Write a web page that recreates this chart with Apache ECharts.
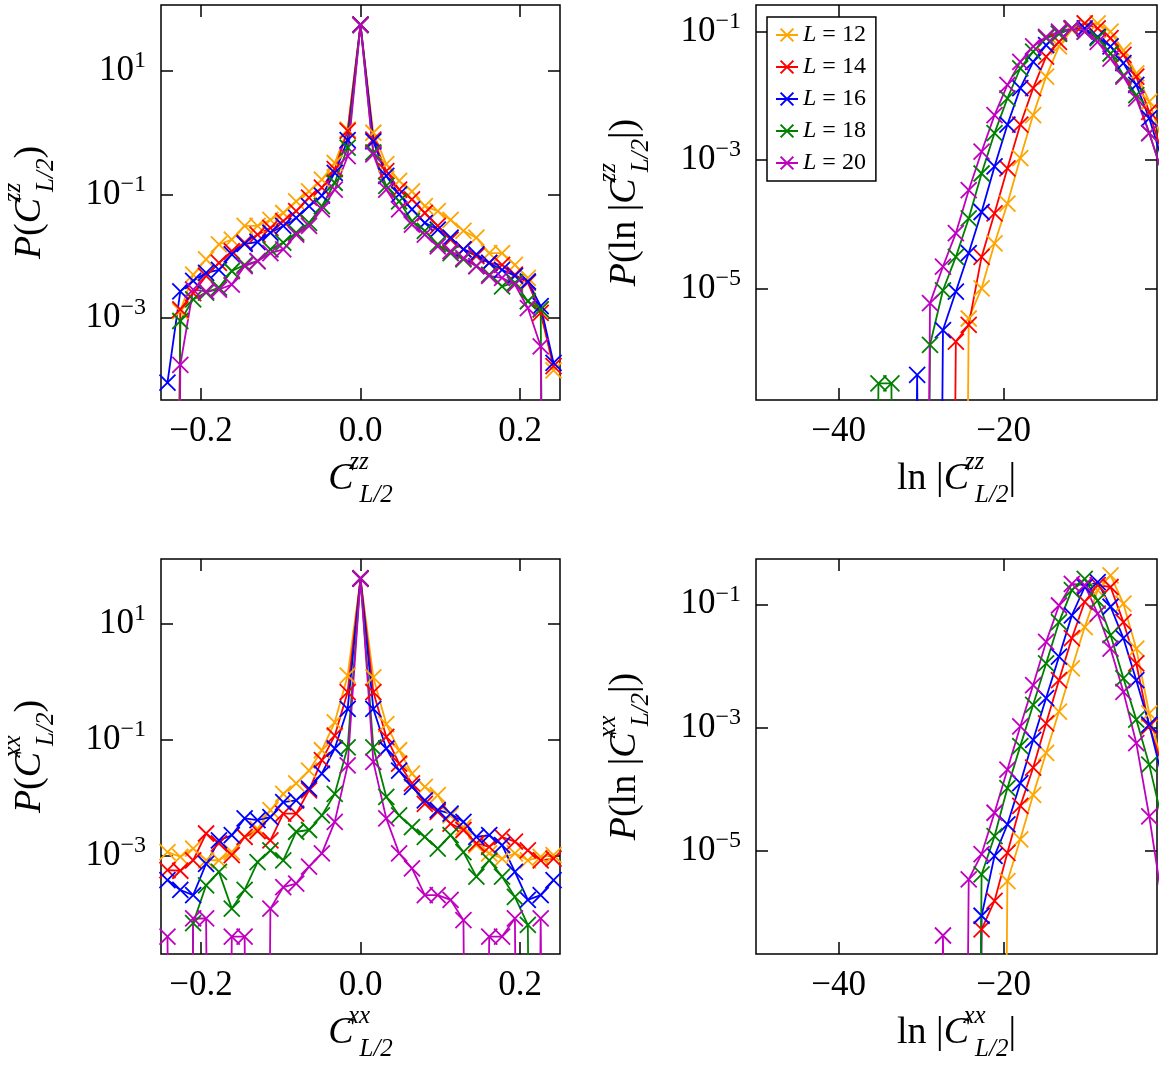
<!DOCTYPE html>
<html lang="en" style="height: 100%">
<head>
  <meta charset="utf-8">
  <title>correlation_distributions</title>
  <style>
    html, body { height: 100%; margin: 0; background: #fff; }
  </style>
</head>
<body>
  <div id="container" style="width: 1165px; height: 1077px"></div>
  <script type="text/javascript" src="https://cdn.jsdelivr.net/npm/echarts@6/dist/echarts.min.js"></script>
  <script type="text/javascript">
// ---- data (log10 of P, null = empty bin) ----
var sizes = ['12', '14', '16', '18', '20'];
var colors = ['#ffa500', '#ff0000', '#0000ff', '#008000', '#bf00bf'];

// bin centres, C_{L/2} histograms (31 bins on [-0.25, 0.25])
var cBins = [-0.2419, -0.2258, -0.2097, -0.1935, -0.1774, -0.1613, -0.1452, -0.1290,
  -0.1129, -0.0968, -0.0806, -0.0645, -0.0484, -0.0323, -0.0161, 0,
  0.0161, 0.0323, 0.0484, 0.0645, 0.0806, 0.0968, 0.1129, 0.1290,
  0.1452, 0.1613, 0.1774, 0.1935, 0.2097, 0.2258, 0.2419];
// bin centres, ln|C_{L/2}| histograms
var lnBins = [-36.72, -35.16, -33.59, -32.03, -30.47, -28.91, -27.34, -25.78,
  -24.22, -22.66, -21.09, -19.53, -17.97, -16.41, -14.84, -13.28,
  -11.72, -10.16, -8.59, -7.03, -5.47, -3.91, -2.34, -0.78];

// P(C^zz)
var zz12 = [null, -2.89, -2.3, -2.05, -1.81, -1.73, -1.51, -1.51, -1.41, -1.3, -1.11, -0.95, -0.76, -0.49, 0.05, 1.75,
  0.0, -0.51, -0.78, -0.95, -1.19, -1.27, -1.41, -1.59, -1.7, -1.95, -1.95, -2.14, -2.35, -2.86, -3.85];
var zz14 = [null, -2.86, -2.6, -2.32, -2.11, -1.92, -1.78, -1.65, -1.54, -1.43, -1.27, -1.05, -0.89, -0.59, 0.03, 1.75,
  -0.11, -0.62, -0.92, -1.08, -1.3, -1.51, -1.73, -1.89, -2.0, -2.11, -2.14, -2.3, -2.43, -2.92, -3.78];
var zz16 = [-4.05, -2.57, -2.4, -2.27, -2.22, -1.97, -1.8, -1.77, -1.62, -1.51, -1.38, -1.19, -1.02, -0.65, -0.12, 1.75,
  -0.14, -0.7, -1.0, -1.24, -1.46, -1.57, -1.7, -1.89, -1.97, -2.11, -2.22, -2.32, -2.41, -2.81, -3.73];
var zz18 = [null, -3.05, -2.7, -2.59, -2.51, -2.24, -2.14, -2.08, -1.89, -1.78, -1.62, -1.46, -1.19, -0.81, -0.24, 1.75,
  -0.32, -0.86, -1.11, -1.43, -1.59, -1.81, -1.95, -2.05, -2.16, -2.3, -2.49, -2.43, -2.73, -2.86, null];
var zz20 = [null, -3.76, -2.54, -2.57, -2.54, -2.46, -2.16, -2.08, -1.95, -1.89, -1.65, -1.51, -1.24, -0.92, -0.38, 1.75,
  -0.35, -0.92, -1.24, -1.49, -1.65, -1.84, -1.92, -2.03, -2.16, -2.32, -2.35, -2.46, -2.84, -3.46, null];

// P(C^xx)
var xx12 = [-2.93, -3.01, -2.87, -3.07, -3.07, -2.93, -2.67, -2.53, -2.21, -1.93, -1.75, -1.53, -1.18, -0.7, 0.1, 1.77,
  0.07, -0.73, -1.18, -1.58, -1.81, -1.95, -2.3, -2.5, -2.81, -2.95, -3.04, -2.95, -3.07, -3.01, -2.98];
var xx14 = [-3.24, -3.25, -3.07, -2.61, -2.78, -2.98, -2.67, -2.57, -2.73, -2.27, -2.27, -1.87, -1.35, -0.93, -0.18, 1.77,
  -0.18, -0.95, -1.41, -1.75, -2.1, -2.24, -2.44, -2.55, -2.78, -2.84, -2.67, -2.75, -2.9, -3.07, -3.04];
var xx16 = [-3.41, -3.58, -3.67, -3.13, -2.73, -2.64, -2.35, -2.38, -2.33, -2.07, -2.04, -1.84, -1.58, -1.15, -0.47, 1.77,
  -0.47, -1.15, -1.53, -1.81, -2.04, -2.21, -2.27, -2.41, -2.67, -2.64, -2.81, -3.27, -3.75, -3.67, -3.41];
var xx18 = [null, null, -4.15, -3.5, -3.27, -3.9, -3.58, -3.1, -2.9, -3.07, -2.58, -2.55, -2.3, -1.93, -1.13, 1.77,
  -1.13, -1.98, -2.3, -2.5, -2.67, -2.87, -2.64, -2.93, -3.35, -3.07, -3.35, -3.7, -4.18, null, null];
var xx20 = [-4.38, null, -4.07, -4.07, null, -4.38, -4.38, null, -3.9, -3.53, -3.47, -3.18, -2.95, -2.41, -1.44, 1.77,
  -1.38, -2.35, -2.95, -3.21, -3.67, -3.67, -3.75, -4.1, null, -4.38, -4.38, -4.07, null, -4.07, null];

// P(ln|C^zz|)
var lnzz12 = [null, null, null, null, null, null, null, null, -5.47, -5.0, -4.3, -3.68, -2.97, -2.3, -1.7, -1.23,
  -0.97, -0.87, -0.87, -1.0, -1.29, -1.65, -2.09, -2.7];
var lnzz14 = [null, null, null, null, null, null, null, -5.83, -5.57, -4.51, -3.83, -3.13, -2.45, -1.88, -1.39, -1.16,
  -0.95, -0.87, -0.95, -1.1, -1.36, -1.7, -2.25, -2.9];
var lnzz16 = [null, null, null, null, -6.35, null, -5.65, -5.05, -4.45, -3.81, -3.1, -2.45, -1.88, -1.47, -1.21, -1.03,
  -0.95, -0.95, -1.08, -1.23, -1.49, -1.83, -2.35, -3.0];
var lnzz18 = [null, -6.48, -6.48, null, null, -5.88, -5.03, -4.51, -3.91, -3.21, -2.58, -2.04, -1.57, -1.31, -1.1, -1.03,
  -0.95, -1.0, -1.1, -1.34, -1.68, -1.99, -2.58, -3.2];
var lnzz20 = [null, null, null, null, null, -5.23, -4.66, -4.14, -3.47, -2.87, -2.3, -1.83, -1.47, -1.23, -1.08, -1.0,
  -0.95, -1.0, -1.16, -1.42, -1.7, -2.04, -2.58, -3.2];

// P(ln|C^xx|)
var lnxx12 = [null, null, null, null, null, null, null, null, null, null, null, -5.49, -4.81, -4.09, -3.41, -2.74,
  -2.04, -1.37, -0.77, -0.53, -0.99, -1.72, -2.77, -3.6];
var lnxx14 = [null, null, null, null, null, null, null, null, null, -6.27, -5.81, -5.03, -4.27, -3.65, -2.93, -2.23,
  -1.55, -0.96, -0.69, -0.72, -1.29, -1.96, -2.98, -3.6];
var lnxx16 = [null, null, null, null, null, null, null, null, null, -6.05, -5.08, -4.57, -3.9, -3.2, -2.52, -1.85,
  -1.18, -0.72, -0.64, -1.04, -1.55, -2.23, -2.95, -3.8];
var lnxx18 = [null, null, null, null, null, null, null, null, null, -5.38, -4.76, -3.98, -3.3, -2.63, -1.96, -1.29,
  -0.77, -0.59, -0.94, -1.5, -2.2, -2.87, -3.6, -4.5];
var lnxx20 = [null, null, null, null, null, null, -6.37, null, -5.46, -5.05, -4.38, -3.68, -2.98, -2.31, -1.61, -1.02,
  -0.67, -0.69, -1.15, -1.72, -2.42, -3.25, -4.44, -5.8];

// ---- chart ----
var SERIF = 'Liberation Serif';
var xMark = 'path://M0,0L10,10M10,0L0,10';

var nameRich = {
  i: { fontFamily: SERIF, fontStyle: 'italic', fontSize: 38, lineHeight: 58, verticalAlign: 'middle', color: '#000' },
  n: { fontFamily: SERIF, fontSize: 38, lineHeight: 58, verticalAlign: 'middle', color: '#000' },
  sup: { fontFamily: SERIF, fontStyle: 'italic', fontSize: 25, verticalAlign: 'top', align: 'left', width: 1,
    padding: [0, 0, 0, 5], color: '#000' },
  sub: { fontFamily: SERIF, fontStyle: 'italic', fontSize: 25, verticalAlign: 'bottom', align: 'left', color: '#000' }
};
var powRich = {
  b: { fontFamily: SERIF, fontSize: 35, lineHeight: 44, verticalAlign: 'middle', color: '#000' },
  s: { fontFamily: SERIF, fontSize: 24, verticalAlign: 'top', color: '#000' }
};

var panels = [
  { grid: { left: 160, top: 5, width: 400, height: 395 }, xMin: -0.25, xMax: 0.25, xTicks: [-0.2, 0, 0.2],
    yMin: -4.33, yMax: 2.07, yTicks: [10, 0.1, 0.001], bins: cBins, logs: [zz12, zz14, zz16, zz18, zz20],
    xName: '{i|C}{sup|zz}{sub|L/2}', yName: '{i|P}{n|(}{i|C}{sup|zz}{sub|L/2}{n|)}' },
  { grid: { left: 756, top: 5, width: 401, height: 395 }, xMin: -50, xMax: -1.4, xTicks: [-40, -20],
    yMin: -6.74, yMax: -0.584, yTicks: [0.1, 0.001, 0.00001], bins: lnBins, logs: [lnzz12, lnzz14, lnzz16, lnzz18, lnzz20],
    xName: '{n|ln |}{i|C}{sup|zz}{sub|L/2}{n||}', yName: '{i|P}{n|(ln |}{i|C}{sup|zz}{sub|L/2}{n||)}' },
  { grid: { left: 160, top: 559, width: 400, height: 395 }, xMin: -0.25, xMax: 0.25, xTicks: [-0.2, 0, 0.2],
    yMin: -4.68, yMax: 2.105, yTicks: [10, 0.1, 0.001], bins: cBins, logs: [xx12, xx14, xx16, xx18, xx20],
    xName: '{i|C}{sup|xx}{sub|L/2}', yName: '{i|P}{n|(}{i|C}{sup|xx}{sub|L/2}{n|)}' },
  { grid: { left: 756, top: 559, width: 401, height: 395 }, xMin: -50, xMax: -1.4, xTicks: [-40, -20],
    yMin: -6.67, yMax: -0.266, yTicks: [0.1, 0.001, 0.00001], bins: lnBins, logs: [lnxx12, lnxx14, lnxx16, lnxx18, lnxx20],
    xName: '{n|ln |}{i|C}{sup|xx}{sub|L/2}{n||}', yName: '{i|P}{n|(ln |}{i|C}{sup|xx}{sub|L/2}{n||)}' }
];

function decLabel(v) {
  if (Math.abs(v) < 1e-9) return '0.0';
  var s = Math.abs(v) < 1 ? Math.abs(v).toFixed(1) : String(Math.abs(v));
  return (v < 0 ? '\u2212' : '') + s;
}
function powLabel(v) {
  var e = Math.round(Math.log10(v));
  return '{b|10}{s|' + (e < 0 ? '\u2212' + (-e) : e) + '}';
}
function toPoints(bins, logs) {
  return bins.map(function (x, i) {
    // empty bins sit far below the frame so the line drops straight down
    return [x, logs[i] === null ? 1e-30 : Math.pow(10, logs[i])];
  });
}

var tick = { show: true, inside: true, length: 12, lineStyle: { color: '#000', width: 1.5 } };
var noLine = { show: false, onZero: false };
var grids = [], xAxes = [], yAxes = [], series = [];

panels.forEach(function (p, g) {
  grids.push(Object.assign({ show: true, borderColor: '#000', borderWidth: 1.5, backgroundColor: 'transparent' }, p.grid));
  xAxes.push({
    type: 'value', gridIndex: g, position: 'bottom', min: p.xMin, max: p.xMax,
    axisLine: noLine, splitLine: { show: false },
    axisTick: Object.assign({ customValues: p.xTicks }, tick),
    axisLabel: { customValues: p.xTicks, formatter: decLabel, margin: 14, fontFamily: SERIF, fontSize: 35, color: '#000' },
    name: p.xName, nameLocation: 'middle', nameGap: 50, nameTextStyle: { rich: nameRich }
  });
  xAxes.push({
    type: 'value', gridIndex: g, position: 'top', min: p.xMin, max: p.xMax,
    axisLine: noLine, splitLine: { show: false },
    axisTick: Object.assign({ customValues: p.xTicks }, tick),
    axisLabel: { show: false }
  });
  yAxes.push({
    type: 'log', gridIndex: g, position: 'left', min: Math.pow(10, p.yMin), max: Math.pow(10, p.yMax),
    axisLine: noLine, splitLine: { show: false }, minorTick: { show: false },
    axisTick: Object.assign({ customValues: p.yTicks }, tick),
    axisLabel: { customValues: p.yTicks, formatter: powLabel, margin: 15, rich: powRich },
    name: p.yName, nameLocation: 'middle', nameRotate: 90, nameGap: 102, nameTextStyle: { rich: nameRich }
  });
  yAxes.push({
    type: 'log', gridIndex: g, position: 'right', min: Math.pow(10, p.yMin), max: Math.pow(10, p.yMax),
    axisLine: noLine, splitLine: { show: false }, minorTick: { show: false },
    axisTick: Object.assign({ customValues: p.yTicks }, tick),
    axisLabel: { show: false }
  });
  p.logs.forEach(function (logs, k) {
    series.push({
      type: 'line', name: 'L = ' + sizes[k], xAxisIndex: 2 * g, yAxisIndex: 2 * g,
      data: toPoints(p.bins, logs), clip: true,
      symbol: xMark, symbolSize: 16, showAllSymbol: true,
      lineStyle: { color: colors[k], width: 1.8 },
      itemStyle: { color: colors[k], borderColor: colors[k], borderWidth: 1.8 },
      emphasis: { disabled: true }
    });
  });
});

var chart = echarts.init(document.getElementById('container'), null, { renderer: 'canvas' });
chart.setOption({
  animation: false,
  backgroundColor: '#fff',
  grid: grids,
  xAxis: xAxes,
  yAxis: yAxes,
  legend: {
    data: sizes.map(function (s) { return 'L = ' + s; }),
    orient: 'vertical', left: 767, top: 17,
    padding: [6, 10, 6, 8], itemGap: 8, itemWidth: 22, itemHeight: 16,
    borderColor: '#000', borderWidth: 1.5, borderRadius: 0, backgroundColor: '#fff',
    selectedMode: false,
    formatter: function (name) { return '{i|L} = ' + name.split('= ')[1]; },
    textStyle: {
      fontFamily: SERIF, fontSize: 24, color: '#000',
      rich: { i: { fontFamily: SERIF, fontStyle: 'italic', fontSize: 24, color: '#000' } }
    }
  },
  series: series
});
window.addEventListener('resize', chart.resize);
  </script>
</body>
</html>
